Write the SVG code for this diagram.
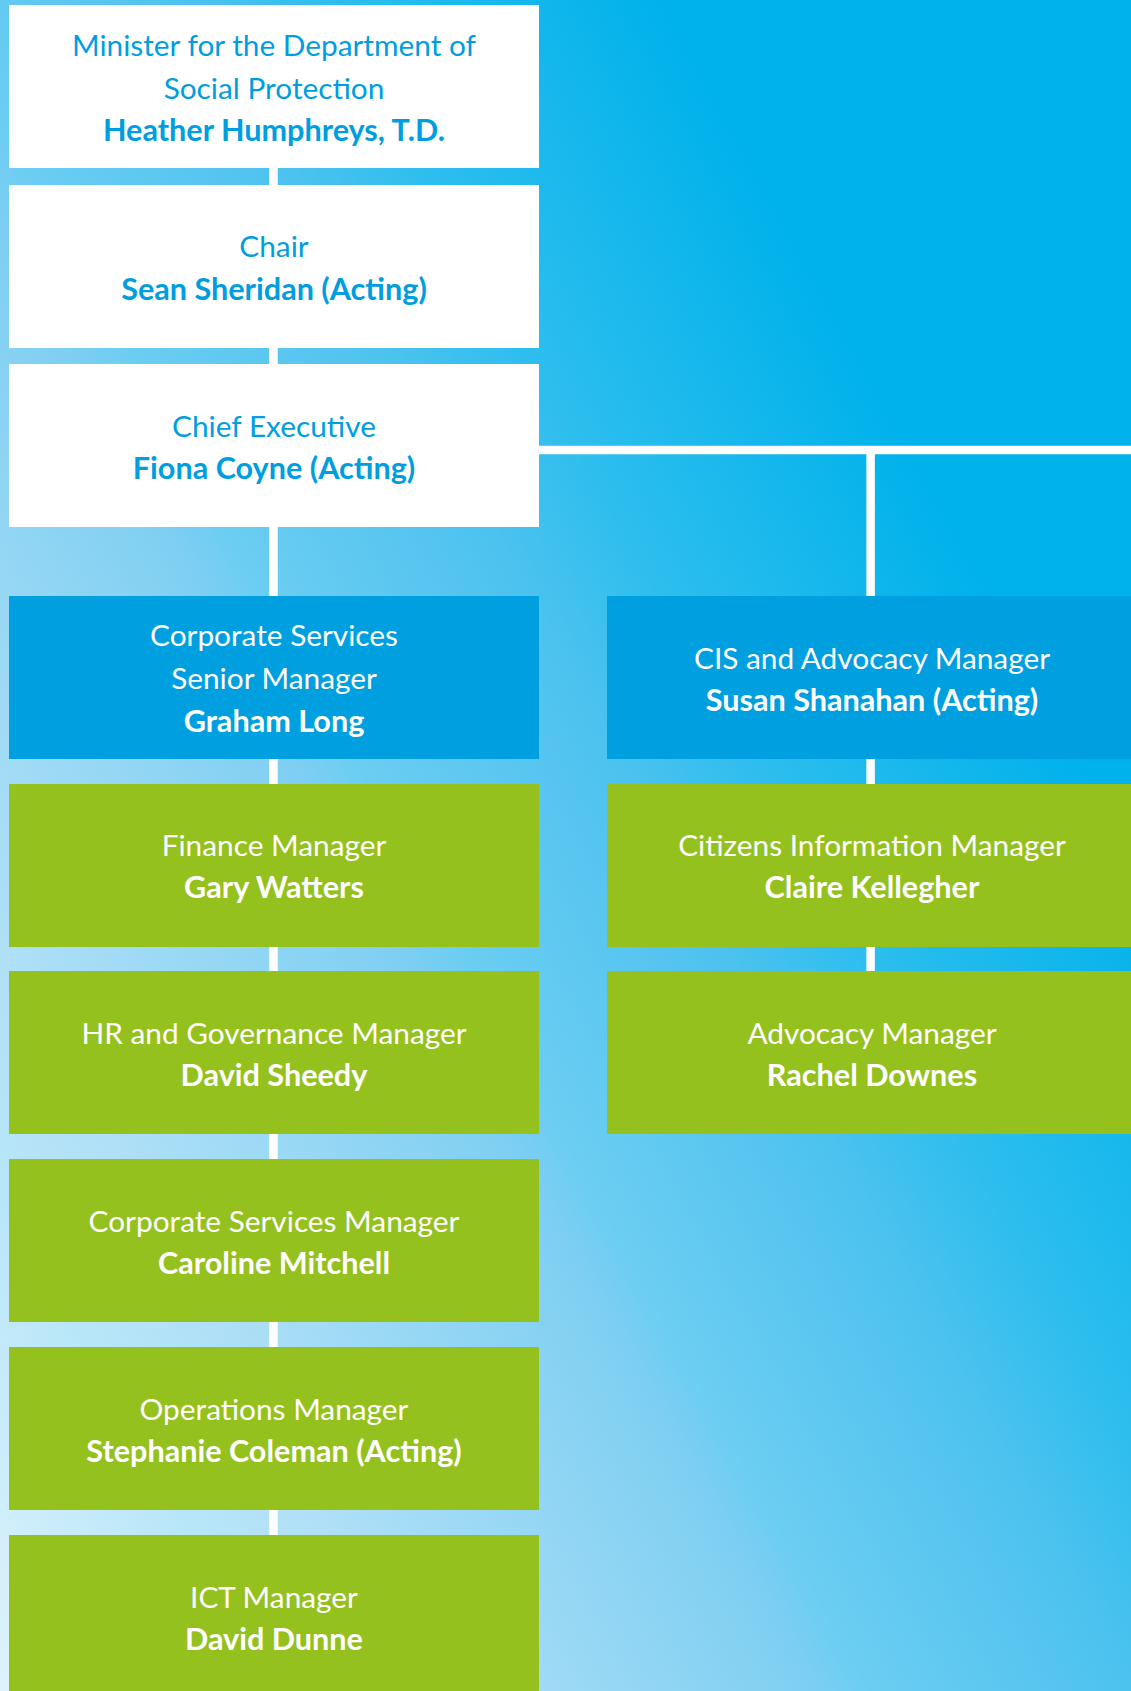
<svg xmlns="http://www.w3.org/2000/svg" width="1131" height="1691" viewBox="0 0 1131 1691">
<style>
.white{fill:#ffffff}
.blue{fill:#009fe0}
.green{fill:#95c11f}
text{font-family:Lato,"Open Sans","Liberation Sans",sans-serif;font-size:29.8px;text-anchor:middle}
.t1{fill:#009ee0}
.t2{fill:#ffffff}
.b{font-weight:bold;font-size:30.6px}
.conn{stroke:#ffffff;stroke-width:8.5;fill:none}
</style>
<defs>
<linearGradient id="bg" gradientUnits="userSpaceOnUse" x1="504" y1="-279" x2="-1008" y2="558">
<stop offset="0" stop-color="#00b2eb"/>
<stop offset="0.167" stop-color="#2ebeee"/>
<stop offset="0.233" stop-color="#4cc2ef"/>
<stop offset="0.367" stop-color="#6ccdf2"/>
<stop offset="0.4" stop-color="#7fcff2"/>
<stop offset="0.6" stop-color="#b0e0f7"/>
<stop offset="0.667" stop-color="#b8e6f9"/>
<stop offset="0.867" stop-color="#eef8fd"/>
<stop offset="1" stop-color="#ffffff"/>
</linearGradient>
</defs>
<rect x="0" y="0" width="1131" height="1691" fill="url(#bg)"/>
<g id="connectors">
<path class="conn" d="M273.5 160 V1540"/>
<path class="conn" d="M535 450 H1131"/>
<path class="conn" d="M870.6 450 V975"/>
</g>
<g id="minister">
<rect class="white" x="9" y="5" width="530" height="163"/>
<text class="t1" x="274" y="56">Minister for the Department of</text>
<text class="t1" x="274" y="99">Social Protection</text>
<text class="t1 b" x="274" y="141">Heather Humphreys, T.D.</text>
</g>
<g id="chair">
<rect class="white" x="9" y="185" width="530" height="163"/>
<text class="t1" x="274" y="257">Chair</text>
<text class="t1 b" x="274" y="299.5">Sean Sheridan (Acting)</text>
</g>
<g id="chief">
<rect class="white" x="9" y="364" width="530" height="163"/>
<text class="t1" x="274" y="436.5">Chief Executive</text>
<text class="t1 b" x="274" y="478.5">Fiona Coyne (Acting)</text>
</g>
<g id="corp-senior">
<rect class="blue" x="9" y="596" width="530" height="163"/>
<text class="t2" x="274" y="646">Corporate Services</text>
<text class="t2" x="274" y="689">Senior Manager</text>
<text class="t2 b" x="274" y="732">Graham Long</text>
</g>
<g id="cis">
<rect class="blue" x="607" y="596" width="530" height="163"/>
<text class="t2" x="872" y="668.5">CIS and Advocacy Manager</text>
<text class="t2 b" x="872" y="711">Susan Shanahan (Acting)</text>
</g>
<g id="finance">
<rect class="green" x="9" y="784" width="530" height="163"/>
<text class="t2" x="274" y="856">Finance Manager</text>
<text class="t2 b" x="274" y="898">Gary Watters</text>
</g>
<g id="citizens">
<rect class="green" x="607" y="784" width="530" height="163"/>
<text class="t2" x="872" y="856">Citizens Information Manager</text>
<text class="t2 b" x="872" y="898">Claire Kellegher</text>
</g>
<g id="hr">
<rect class="green" x="9" y="971" width="530" height="163"/>
<text class="t2" x="274" y="1043.5">HR and Governance Manager</text>
<text class="t2 b" x="274" y="1085.5">David Sheedy</text>
</g>
<g id="advocacy">
<rect class="green" x="607" y="971" width="530" height="163"/>
<text class="t2" x="872" y="1043.5">Advocacy Manager</text>
<text class="t2 b" x="872" y="1085.5">Rachel Downes</text>
</g>
<g id="corp-services">
<rect class="green" x="9" y="1159" width="530" height="163"/>
<text class="t2" x="274" y="1231.5">Corporate Services Manager</text>
<text class="t2 b" x="274" y="1273.5">Caroline Mitchell</text>
</g>
<g id="operations">
<rect class="green" x="9" y="1347" width="530" height="163"/>
<text class="t2" x="274" y="1419.5">Operations Manager</text>
<text class="t2 b" x="274" y="1461.5">Stephanie Coleman (Acting)</text>
</g>
<g id="ict">
<rect class="green" x="9" y="1535" width="530" height="163"/>
<text class="t2" x="274" y="1607.5">ICT Manager</text>
<text class="t2 b" x="274" y="1649.5">David Dunne</text>
</g>
</svg>
